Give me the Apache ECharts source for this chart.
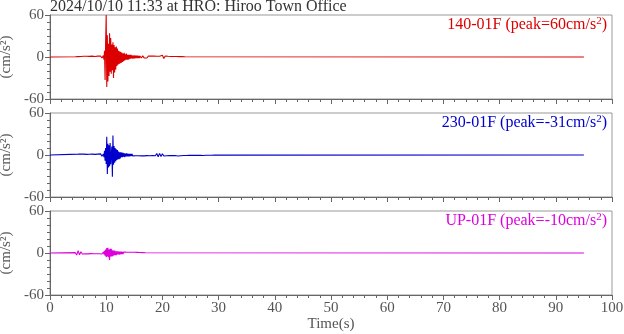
<!DOCTYPE html>
<html>
<head>
<meta charset="utf-8">
<script src="https://cdn.jsdelivr.net/npm/echarts@6/dist/echarts.min.js"></script>
<style>
  html, body { margin: 0; padding: 0; background: #fff; }
  #chart { width: 624px; height: 334px; }
</style>
</head>
<body>
<div id="chart"></div>
<script>
const stationTitle = '2024/10/10 11:33 at HRO: Hiroo Town Office';
const channelNames = ['140-01F', '230-01F', 'UP-01F'];
const channelPeaks = ['60', '-31', '-10'];
const recordEnd = 95;
const mainStep = 0.1;
const noiseStep = 0.25;

// 140-01F
const ewPreStart = 4.5;
const ewPre = [0.3, -0.5, 0.6, -0.8, 0.7, -0.9, 1.0, -0.8, 1.1, -1.2, 0.9, -1.0, 1.2, -0.9, 0.8, -1.1, 1.3, -1.0, 1.5, -1.4];
const ewMainStart = 9.5;
const ewMain = [2, -4, 9, -33, 22, 60, -43, 31, -35, 19,
  -27, 34, -21, 27, -24, 18, -19, 21, -30, 17,
  -22, 14, -18, 15, -13, 12, -11, 9, -10, 8,
  -9, 7, -8, 6, -7, 5, -6, 6, -5, 4,
  -4, 5, -4, 3, -4, 3, -3, 3, -2.5, 3,
  -2, 2.5, -2.5, 2, -2, 2.5, -2, 2, -1.8, 2,
  -1.5, 1.8, -1.6, 1.5, -1.5];
const ewTailStart = 16;
const ewTail = [1.5, -1.4, 1.6, -1.3, 1.2, -1.5, 1.4, -1.2, 1.3, -1.1, 1.2, -1.3, 1.0, -1.2, 1.1, -1.0,
  2.4, -2.0, 1.5, -1.2, 1.0, -0.9, 0.8, -0.9, 0.8, -0.7, 0.7, -0.6, 0.6, -0.5, 0.5, -0.4, 0.3];

// 230-01F
const nsPreStart = 5;
const nsPre = [1.2, -1.5, 1.4, -1.0, 1.3, -1.2, 0.9, -1.1, 1.0, -0.8, 1.2, -1.0, 0.9, -1.2, 1.3, -1.4, 1.6, -1.8];
const nsMainStart = 9.5;
const nsMain = [1.5, -3, 6, -8, 10, -13, 26, -27, 16, -18,
  14, -16, 17, -13, -15, 12, -31, 28, -14, 13,
  -11, 10, -9, 8, -7, 7, -6, 5, -6, 4,
  -5, 4, -3, 3.5, -3, 3, -2.5, 2.5, -3, 2,
  -2, 2.5, -2, 2, -1.8, 1.6, -1.8, 1.5, -1.6, 1.5,
  -1.4, 1.6, -1.3, 1.4, -1.2];
const nsTailStart = 15;
const nsTail = [1.2, -1.0, 1.3, -1.1, 1.0, -1.2, 1.4, -1.3, 1.0, -0.9, 1.1, -1.0, 0.9, -0.8, 0.9, -1.0,
  2.2, -2.4, 2.3, -2.0, 1.8, -1.5, 1.3, -1.1, 1.0, -0.9, 0.8, -0.9, 0.7, -0.8, 1.6, -1.4,
  1.2, -1.0, 0.8, -0.7, 0.6, -0.7, 0.6, -0.5, 0.5, -0.6, 0.5, -0.4, 0.5, -0.5, 0.4, -0.4,
  0.9, -0.8, 0.4, -0.4, 0.3, -0.3, 0.3, -0.3, 0.3, -0.2, 0.2, -0.2, 0.2, -0.2, 0.1];

// UP-01F
const udPreStart = 4.5;
const udPre = [0.5, -3.0, 3.5, -2.5, 1.8, -1.5, 1.2, -1.3, 1.0, -1.2, 1.1, -0.9, 1.0, -1.1, 0.9, -1.0, 1.2, -1.0, 1.3, -1.5];
const udMainStart = 9.5;
const udMain = [1.5, -2, 3, -4, 5, -6, 7, -5, 7.5, -6,
  5, -10, 6, -5, 6, -5, 4, -4.5, 3.5, -3,
  3.5, -3, 2.5, -3, 2.5, -2, 2.5, -2, 2, -2.5,
  2, -1.8, 2, -1.5, 1.6, -1.5, 1.4, -1.3, 1.2, -1.2];
const udTailStart = 13.5;
const udTail = [1.2, -1.0, 1.1, -1.2, 1.0, -0.9, 1.0, -1.1, 0.9, -0.8, 0.8, -0.7, 0.6, -0.5, 0.3];

const colors = ['#dd0000', '#0000cc', '#dd00dd'];
const font = 'Liberation Serif';

function segment(start, step, values) {
  return values.map((v, i) => [+(start + i * step).toFixed(3), v]);
}

const traces = [
  [[0, 0]].concat(segment(ewPreStart, noiseStep, ewPre), segment(ewMainStart, mainStep, ewMain),
    segment(ewTailStart, noiseStep, ewTail), [[recordEnd, 0]]),
  [[0, 0]].concat(segment(nsPreStart, noiseStep, nsPre), segment(nsMainStart, mainStep, nsMain),
    segment(nsTailStart, noiseStep, nsTail), [[recordEnd, 0]]),
  [[0, 0]].concat(segment(udPreStart, noiseStep, udPre), segment(udMainStart, mainStep, udMain),
    segment(udTailStart, noiseStep, udTail), [[recordEnd, 0]])
];

const panelTop = [15, 113, 211];
const panelHeight = 84;

var chart = echarts.init(document.getElementById('chart'));

let option = {
  animation: false,
  grid: panelTop.map(t => ({
    left: 50, right: 12, top: t, height: panelHeight,
    containLabel: false, outerBoundsMode: 'none',
    show: true, borderColor: '#999', borderWidth: 1
  })),
  xAxis: panelTop.map((t, i) => ({
    gridIndex: i,
    type: 'value',
    min: 0, max: 100, interval: 10,
    axisLine: { show: true, onZero: false, lineStyle: { color: '#666' } },
    axisTick: { show: true, inside: false, length: 5, lineStyle: { color: '#666' } },
    minorTick: { show: true, splitNumber: 5, length: 3, lineStyle: { color: '#666' } },
    splitLine: { show: false },
    axisLabel: { show: i === 2, margin: 6, color: '#555', fontFamily: font, fontSize: 15 },
    name: i === 2 ? 'Time(s)' : '',
    nameLocation: 'middle',
    nameGap: 22,
    nameTextStyle: { color: '#555', fontFamily: font, fontSize: 15 }
  })),
  yAxis: panelTop.map((t, i) => ({
    gridIndex: i,
    type: 'value',
    min: -60, max: 60, interval: 60,
    axisLine: { show: true, lineStyle: { color: '#666' } },
    axisTick: { show: true, inside: false, length: 5, lineStyle: { color: '#666' } },
    minorTick: { show: true, splitNumber: 6, length: 3, lineStyle: { color: '#666' } },
    splitLine: { show: false },
    axisLabel: { margin: 6, color: '#555', fontFamily: font, fontSize: 15 },
    name: '(cm/s²)',
    nameLocation: 'middle',
    nameRotate: 90,
    nameGap: 34,
    nameTextStyle: { color: '#555', fontFamily: font, fontSize: 15 }
  })),
  graphic: [
    {
      type: 'text', left: 50, top: -1,
      style: { text: stationTitle, fill: '#333', font: '16px "Liberation Serif"' }
    }
  ].concat(panelTop.map((t, i) => ({
    type: 'text', right: 17, top: t + 1,
    style: {
      text: '{a|' + channelNames[i] + ' (peak=' + channelPeaks[i] + 'cm/s}{s|2}{a|)}',
      rich: {
        a: { fill: colors[i], fontFamily: font, fontSize: 16, lineHeight: 18 },
        s: { fill: colors[i], fontFamily: font, fontSize: 11, lineHeight: 11, verticalAlign: 'top' }
      }
    }
  }))),
  series: traces.map((d, i) => ({
    type: 'line',
    xAxisIndex: i,
    yAxisIndex: i,
    data: d,
    showSymbol: false,
    symbol: 'none',
    sampling: null,
    lineStyle: { color: colors[i], width: 1.1 },
    silent: true
  }))
};

chart.setOption(option);
</script>
</body>
</html>
